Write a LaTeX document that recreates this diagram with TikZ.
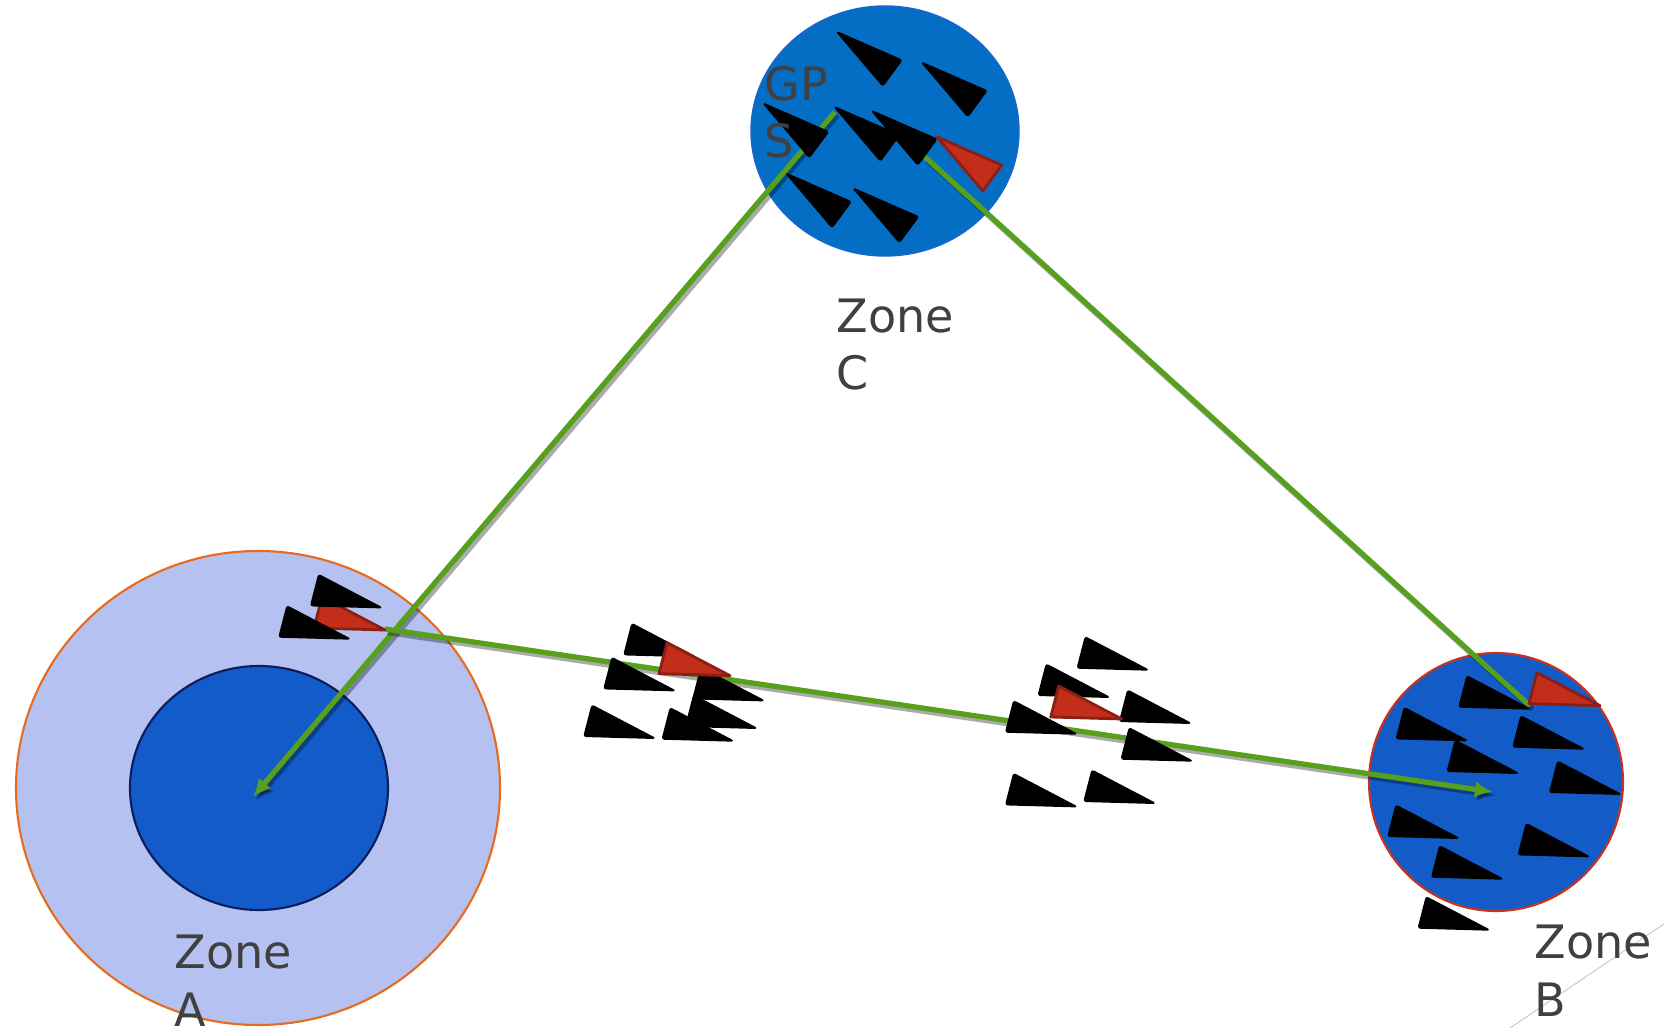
\documentclass[tikz,border=0pt]{standalone}
\usepackage{fontspec}
\setmainfont{DejaVu Sans}
\usetikzlibrary{arrows.meta}

\definecolor{outerA}{HTML}{B5C1F0}
\definecolor{edgeA}{HTML}{E86A1E}
\definecolor{innerA}{HTML}{135BC8}
\definecolor{rimA}{HTML}{0A1E5A}
\definecolor{fillC}{HTML}{046EC4}
\definecolor{rimC}{HTML}{1A66D0}
\definecolor{fillB}{HTML}{135CC8}
\definecolor{rimB}{HTML}{C8321E}
\definecolor{routegreen}{HTML}{56A01E}
\definecolor{leadfill}{HTML}{C22E1A}
\definecolor{leadrim}{HTML}{8C1E14}
\definecolor{textgrey}{HTML}{404040}

\begin{document}
\begin{tikzpicture}[x=0.01cm, y=-0.01cm, >={Latex[length=0.18cm, width=0.16cm]},
  plane/.style={fill=black, draw=black, line width=0.4pt, line join=round, rounded corners=0.6pt},
  lead/.style={fill=leadfill, draw=leadrim, line width=0.8pt, line join=round},
  route/.style={draw=routegreen, line width=1.5pt},
  trail/.style={draw=black, opacity=0.33, line width=1.5pt},
  zonetext/.style={text=textgrey, font=\fontsize{13.1}{16.4}\selectfont, align=left, inner sep=0pt}]

\useasboundingbox (0,0) rectangle (1664,1028);
\clip (0,0) rectangle (1664,1028);

% Зони
\coordinate (zA) at (258,788);
\coordinate (zB) at (1496,782);
\coordinate (zC) at (885,131);
\draw[fill=outerA, draw=edgeA, line width=0.6pt] (zA) ellipse [x radius=242, y radius=237];
\draw[fill=innerA, draw=rimA, line width=0.6pt] (259,788) ellipse [x radius=129, y radius=122];
\draw[fill=fillC, draw=rimC, line width=0.4pt] (zC) ellipse [x radius=134, y radius=125];
\draw[fill=fillB, draw=rimB, line width=0.6pt] (zB) ellipse [x radius=127, y radius=129];

% Тонка лінія
\draw[gray!40, line width=0.3pt] (1510,1028) -- (1664,924);

% Маршрути
\coordinate (cA) at (835,112);
\coordinate (tA) at (253,797);
\coordinate (aB) at (385,629);
\coordinate (tB) at (1493,792);
\coordinate (cB) at (925,157);
\coordinate (eB) at (1530,706);

\foreach \s/\e/\tip in {cA/tA/->, aB/tB/->, cB/eB/-} {
  \draw[trail, \tip] ([shift={(2.5,3.5)}]\s) -- ([shift={(2.5,3.5)}]\e);
  \draw[route, \tip] (\s) -- (\e);
}

% Лідер у зоні A
\filldraw[lead] (385,630) -- ++(-63,-33) -- ++(-8,31) -- cycle;

% Чорні маркери
\foreach \x/\y in {381.7/607.7, 350/639,
    695/656.7, 675/690.7, 764/700.7, 756.7/728.3, 655/738.3, 733.3/741,
    1148.3/670, 1109.3/697.3, 1190.7/723.3, 1076.7/734, 1192.3/761, 1076.7/806.7, 1155/803.3,
    1530/709, 1467.3/740.7, 1584/749, 1518.3/773.3, 1620.7/794.3, 1459/838.3, 1589.3/856.7, 1502.7/879, 1489.3/930} {
  \filldraw[plane] (\x,\y) -- ++(-63,-33) -- ++(-8,31) -- cycle;
}

% Маркери в зоні C
\foreach \x/\y in {836.7/31.7, 921.7/62.3, 763.3/103.3, 834.3/106.7, 871.7/110.7, 786/173.3, 853.3/188.3} {
  \filldraw[plane, rotate around={158:(\x,\y)}] (\x,\y) -- ++(-63,-33) -- ++(-8,31) -- cycle;
}

% Лідери
\foreach \x/\y in {730/675.7, 1121.7/719, 1600/705.7} {
  \filldraw[lead] (\x,\y) -- ++(-63,-33) -- ++(-8,31) -- cycle;
}
\filldraw[lead, rotate around={158:(936.7,136.7)}] (936.7,136.7) -- ++(-63,-33) -- ++(-8,31) -- cycle;

% Підписи
\node[zonetext, anchor=base west] (labA) at (174,1026) {Zone\\A};
\node[zonetext, anchor=base west] (labB) at (1534,1016) {Zone\\B};
\node[zonetext, anchor=base west] (labC) at (836,390) {Zone\\C};
\node[zonetext, anchor=base west] (labG) at (764,158) {GP\\S};

\end{tikzpicture}
\end{document}
